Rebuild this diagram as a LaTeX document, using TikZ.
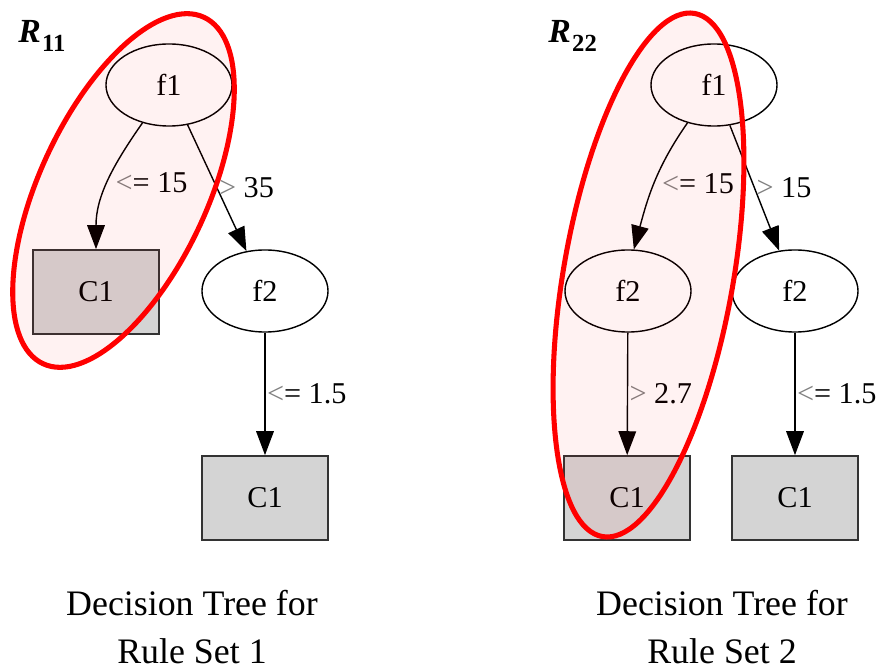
\documentclass[tikz,border=0pt]{standalone}
\usepackage{fontspec}
\setmainfont{Liberation Serif}
\usetikzlibrary{arrows.meta,shapes.geometric}
\newcommand{\lesym}{{\color{gray}<}=}
\newcommand{\gtsym}{{\color{gray}>}}
\newcommand{\rulename}[1]{{\bfseries\itshape R}\kern1pt\raisebox{-6.4pt}{\fontsize{17.5}{17.5}\selectfont\bfseries #1}}
\begin{document}
\begin{tikzpicture}[x=0.025cm, y=0.025cm,
  every node/.style={font=\fontsize{21.5}{24}\selectfont},
  feat/.style={ellipse, draw, line width=1pt, fill=white, minimum width=3.15cm, minimum height=2.05cm, inner sep=0pt},
  leaf/.style={rectangle, draw=black!80, line width=1.2pt, fill=black!17, minimum width=3.15cm, minimum height=2.1cm},
  lbl/.style={anchor=west, inner sep=1pt},
  edge/.style={line width=1pt, -{Triangle[length=17pt, width=12.5pt]}},
  rule/.style={draw=red, line width=3.6pt, fill=red, fill opacity=0.05},
  title/.style={align=center, anchor=base, inner sep=0pt, font=\fontsize{25.5}{33.5}\selectfont},
  rname/.style={anchor=base west, inner sep=0pt, font=\fontsize{24}{26}\selectfont}]
\useasboundingbox (0,0) rectangle (882,-669);

\node [feat] (A) at (169, -85) {f1};
\node [leaf] (B) at (96, -292) {C1};
\node [feat] (C) at (265, -291) {f2};
\node [leaf] (D) at (265, -498) {C1};

\draw [edge] (A.-125) to [out=235, in=90] node [lbl, xshift=4] {\lesym{} 15} (B);
\draw [edge] (A) to node [lbl] {\gtsym{} 35} (C);
\draw [edge] (C) to node [lbl] {\lesym{} 1.5} (D);

\node [feat] (E) at (714, -85) {f1};
\node [feat] (F) at (628, -291) {f2};
\node [feat] (G) at (795, -291) {f2};
\node [leaf] (H) at (627, -498) {C1};
\node [leaf] (I) at (795, -498) {C1};

\draw [edge] (E.-125) to [out=235, in=75] node [lbl, xshift=4] {\lesym{} 15} (F.82);
\draw [edge] (E) to node [lbl] {\gtsym{} 15} (G);
\draw [edge] (F) to node [lbl] {\gtsym{} 2.7} (H);
\draw [edge] (G) to node [lbl] {\lesym{} 1.5} (I);

\draw [rule, rotate around={65.1:(123.5,-190.5)}] (123.5,-190.5) ellipse [x radius=191, y radius=84];
\draw [rule, rotate around={80:(648.5,-275)}] (648.5,-275) ellipse [x radius=265.6, y radius=84.8];

\node [rname] (R1) at (18, -43) {\rulename{11}};
\node [rname] (R2) at (548, -43) {\rulename{22}};

\node [title] (T1) at (192, -663) {Decision Tree for\\Rule Set 1};
\node [title] (T2) at (722, -663) {Decision Tree for\\Rule Set 2};
\end{tikzpicture}
\end{document}
